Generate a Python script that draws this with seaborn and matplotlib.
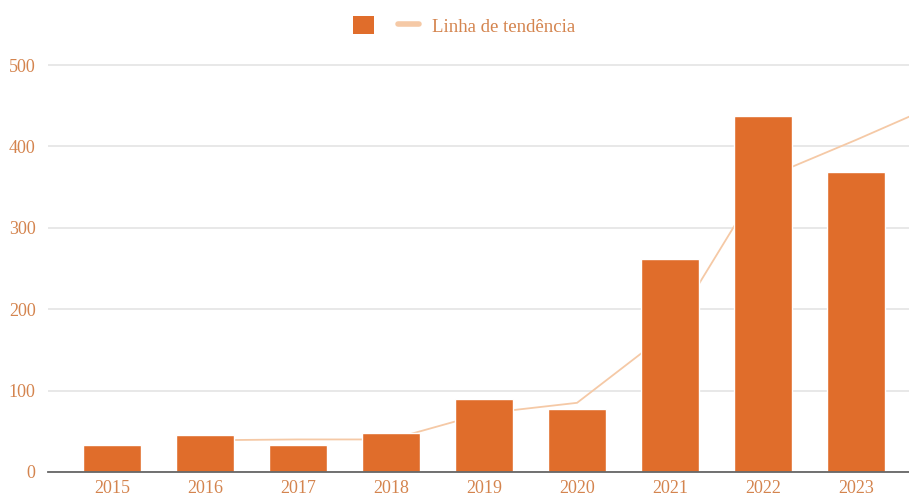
import pandas as pd
import matplotlib.pyplot as plt
import seaborn as sns
from matplotlib.patches import Patch
from matplotlib.lines import Line2D

years = ['2015', '2016', '2017', '2018', '2019', '2020', '2021', '2022', '2023']
counts = [33, 45, 33, 48, 90, 78, 262, 438, 369]

# trend line (2-point moving average), continues past the cropped right edge
trend_pos = [1, 2, 3, 4, 5, 6, 7, 8, 9]
trend_vals = [39, 40, 40, 72, 85, 173, 360, 408, 458]

bar_color = '#E06D2B'
trend_color = '#F5C9A6'
text_color = '#D4844E'

sns.set_style("white")
plt.rcParams["font.family"] = ["Liberation Serif", "DejaVu Serif"]

data = pd.DataFrame({'year': years, 'count': counts})

fig = plt.figure(figsize=(9.09, 5.01), dpi=100)
ax = fig.add_axes([48 / 909, 29 / 501, 1 - 48 / 909, 411 / 501])

ax.yaxis.grid(True, color='#E4E4E4', linewidth=1.2, zorder=0)
ax.set_axisbelow(True)

ax.plot(trend_pos, trend_vals, color=trend_color, linewidth=1.3, zorder=1,
        solid_capstyle='butt')

sns.barplot(data=data, x='year', y='count', color=bar_color, width=0.63,
            saturation=1, ax=ax, zorder=2)

ax.set_xlim(-0.69, 8.57)
ax.set_ylim(0, 505)
ax.set_yticks([0, 100, 200, 300, 400, 500])
ax.set_xlabel('')
ax.set_ylabel('')

for s in ['top', 'right', 'left']:
    ax.spines[s].set_visible(False)
ax.spines['bottom'].set_color('#666666')
ax.spines['bottom'].set_linewidth(1.3)
ax.spines['bottom'].set_zorder(3)

ax.tick_params(axis='both', length=0, labelsize=13, labelcolor=text_color)
ax.tick_params(axis='y', pad=9)
ax.tick_params(axis='x', pad=6)

handles = [Patch(facecolor=bar_color, edgecolor='none'),
           Line2D([0], [0], color=trend_color, linewidth=4)]
leg = fig.legend(handles=handles, labels=['', 'Linha de tendência'], ncol=2,
                 loc='center', bbox_to_anchor=(464 / 909, 1 - 26 / 501),
                 frameon=False, fontsize=13.5, handlelength=1.1,
                 handleheight=1.1, columnspacing=0.6, handletextpad=0.7)
for t in leg.get_texts():
    t.set_color(text_color)

plt.savefig("out.png", dpi=100)
